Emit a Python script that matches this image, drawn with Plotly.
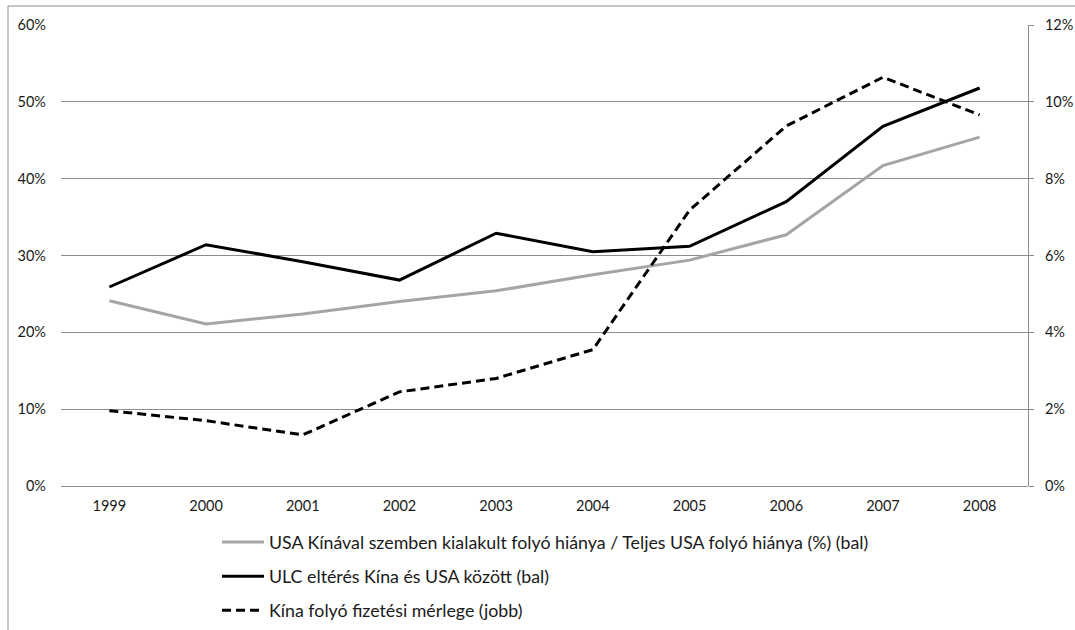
import plotly.graph_objects as go

# Years on the category axis
years = ["1999", "2000", "2001", "2002", "2003", "2004", "2005", "2006", "2007", "2008"]

# Left axis series (%)
usa_china_share = [24.1, 21.1, 22.4, 24.0, 25.4, 27.5, 29.4, 32.7, 41.7, 45.4]
ulc_gap = [25.9, 31.4, 29.2, 26.8, 32.9, 30.5, 31.2, 37.0, 46.8, 51.8]

# Right axis series (%)
china_current_account = [1.96, 1.70, 1.33, 2.45, 2.80, 3.55, 7.18, 9.37, 10.64, 9.66]

names = [
    "USA Kínával szemben kialakult folyó hiánya / Teljes USA folyó hiánya (%) (bal)",
    "ULC eltérés Kína és USA között (bal)",
    "Kína folyó fizetési mérlege (jobb)",
]

FONT = "Lato"
GRID = "#8c8c8c"
TEXT = "#1a1a1a"

fig = go.Figure()
fig.add_trace(go.Scatter(
    x=years, y=usa_china_share, name=names[0], mode="lines",
    line=dict(color="#a5a5a5", width=3), legendgroup="a",
))
fig.add_trace(go.Scatter(
    x=years, y=ulc_gap, name=names[1], mode="lines",
    line=dict(color="#000000", width=3), legendgroup="b",
))
fig.add_trace(go.Scatter(
    x=years, y=china_current_account, name=names[2], mode="lines",
    line=dict(color="#000000", width=3, dash="9px,5px"), yaxis="y2",
    legendgroup="c",
))

W, H = 1075, 630
L, R, T, B = 61, 1028, 25, 486


def px_to_paper_x(px):
    return (px - L) / (R - L)


def px_to_paper_y(py):
    return (B - py) / (B - T)


fig.update_layout(
    width=W, height=H,
    margin=dict(l=L, r=W - R, t=T, b=H - B, autoexpand=False),
    paper_bgcolor="white", plot_bgcolor="white",
    font=dict(family=FONT, size=14.5, color=TEXT),
    showlegend=True,
    legend=dict(
        xref="container", yref="container",
        x=217 / W, y=(H - 524) / H,
        xanchor="left", yanchor="top",
        traceorder="grouped", tracegroupgap=8,
        itemwidth=42,
        font=dict(family=FONT, size=17.8, color=TEXT),
        bgcolor="rgba(0,0,0,0)",
    ),
    xaxis=dict(
        type="category", range=[-0.5, 9.5],
        showgrid=False, showline=False, ticks="", zeroline=False,
        ticklabelstandoff=9,
        tickfont=dict(family=FONT, size=14.5, color=TEXT),
    ),
    yaxis=dict(
        range=[0, 60], dtick=10, ticksuffix="%",
        showgrid=True, gridcolor=GRID, gridwidth=1,
        zeroline=True, zerolinecolor=GRID, zerolinewidth=1,
        showline=False, ticks="", ticklabelstandoff=14,
        tickfont=dict(family=FONT, size=14.5, color=TEXT),
    ),
    yaxis2=dict(
        range=[0, 12], dtick=2, ticksuffix="%",
        overlaying="y", side="right",
        showgrid=False, zeroline=False,
        showline=True, linecolor=GRID, linewidth=1,
        ticks="outside", ticklen=5, tickcolor=GRID,
        ticklabelstandoff=8,
        tickfont=dict(family=FONT, size=14.5, color=TEXT),
    ),
    shapes=[dict(
        type="rect", xref="paper", yref="paper", layer="below",
        x0=px_to_paper_x(8), x1=px_to_paper_x(1090),
        y0=px_to_paper_y(650), y1=px_to_paper_y(6),
        line=dict(color=GRID, width=1), fillcolor="rgba(0,0,0,0)",
    )],
)

fig.write_html("out.html")
